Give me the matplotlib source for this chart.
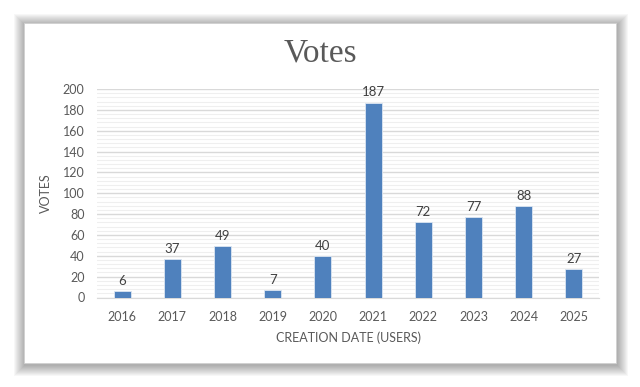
import matplotlib
matplotlib.use("Agg")
import matplotlib.pyplot as plt
from matplotlib.patches import Rectangle
from matplotlib.ticker import MultipleLocator

# datos
years = ["2016", "2017", "2018", "2019", "2020", "2021", "2022", "2023", "2024", "2025"]
votes = [6, 37, 49, 7, 40, 187, 72, 77, 88, 27]

gris = "#595959"
azul = "#4f81bd"

fig = plt.figure(figsize=(6.4, 3.87), dpi=100)
fig.patch.set_facecolor("white")

# sombra y tarjeta
W, H = 640, 387
x0, y0, x1, y1 = 24, 23, 616, 363
for i in range(11, 0, -1):
    fig.patches.append(Rectangle(((x0 - i + 1) / W, 1 - (y1 + i + 2) / H),
                                 (x1 - x0 + 2 * i) / W, (y1 - y0 + 2 * i) / H,
                                 transform=fig.transFigure, facecolor="black",
                                 alpha=0.03, edgecolor="none", zorder=0))
fig.patches.append(Rectangle((x0 / W, 1 - y1 / H), (x1 - x0) / W, (y1 - y0) / H,
                             transform=fig.transFigure, facecolor="white",
                             edgecolor="#d0d0d0", linewidth=0.6, zorder=1))

ax = fig.add_axes([97 / W, 89.5 / H, 502 / W, 208.5 / H])
ax.set_facecolor("none")
ax.set_zorder(2)

x = range(len(years))
ax.bar(x, votes, width=0.34, color=azul, edgecolor="#dce6f2", linewidth=0.6, zorder=3)
for xi, v in zip(x, votes):
    ax.text(xi, v + 4, str(v), ha="center", va="bottom", fontsize=9.5,
            color="#404040", family="Lato")

ax.set_xlim(-0.5, len(years) - 0.5)
ax.set_ylim(0, 200)
ax.yaxis.set_major_locator(MultipleLocator(20))
ax.yaxis.set_minor_locator(MultipleLocator(4))
ax.grid(axis="y", which="major", color="#d9d9d9", linewidth=1.0, zorder=0)
ax.grid(axis="y", which="minor", color="#efefef", linewidth=0.8, zorder=0)
ax.set_axisbelow(True)

ax.set_xticks(list(x))
ax.set_xticklabels(years)
for s in ["top", "right", "left"]:
    ax.spines[s].set_visible(False)
ax.spines["bottom"].set_color("#d9d9d9")
ax.tick_params(axis="both", which="both", length=0, colors=gris, labelsize=9)
ax.tick_params(axis="x", pad=10)
ax.tick_params(axis="y", pad=9)
for lab in ax.get_xticklabels() + ax.get_yticklabels():
    lab.set_family("Lato")

ax.set_xlabel("CREATION DATE (USERS)", fontsize=9, color=gris, family="Lato", labelpad=6)
ax.set_ylabel("VOTES", fontsize=9, color=gris, family="Lato", labelpad=8)

fig.text(0.5, 1 - 53 / H, "Votes", ha="center", va="center", fontsize=24,
         color=gris, family="Liberation Serif")

fig.savefig("out.png", dpi=100)
